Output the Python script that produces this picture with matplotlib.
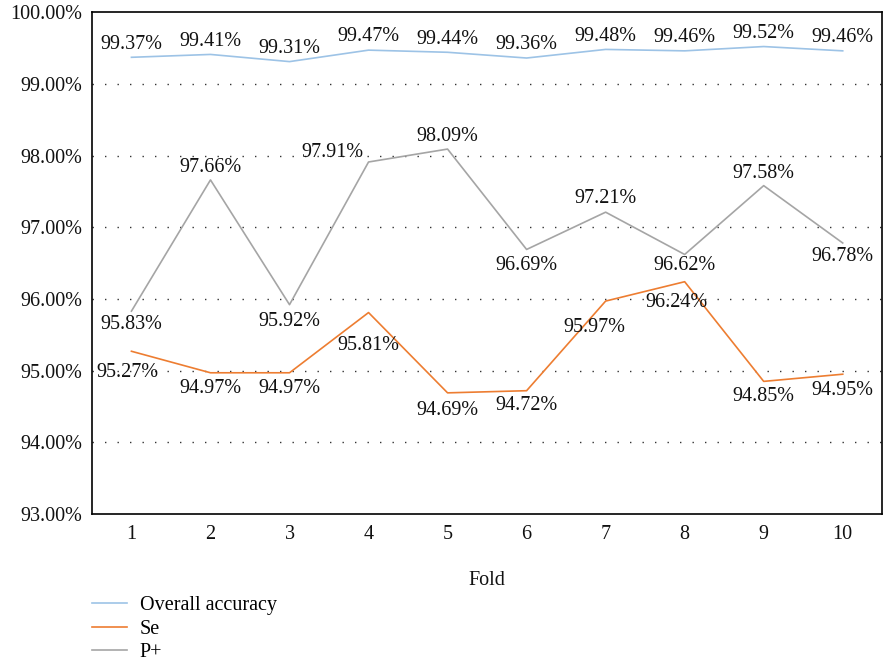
import matplotlib
matplotlib.use("Agg")
import matplotlib.pyplot as plt
from matplotlib.ticker import FuncFormatter

folds = [1, 2, 3, 4, 5, 6, 7, 8, 9, 10]
overall_accuracy = [99.37, 99.41, 99.31, 99.47, 99.44, 99.36, 99.48, 99.46, 99.52, 99.46]
se = [95.27, 94.97, 94.97, 95.81, 94.69, 94.72, 95.97, 96.24, 94.85, 94.95]
p_plus = [95.83, 97.66, 95.92, 97.91, 98.09, 96.69, 97.21, 96.62, 97.58, 96.78]

plt.rcParams["font.family"] = ["Liberation Serif", "DejaVu Serif"]

fig = plt.figure(figsize=(8.84, 6.63), dpi=100)
ax = fig.add_axes([0.104, 0.2247, 0.894, 0.757])

x = list(range(len(folds)))
ax.plot(x, overall_accuracy, color="#9dc3e6", lw=1.2, label="Overall accuracy")
ax.plot(x, se, color="#ed7d31", lw=1.2, label="Se")
ax.plot(x, p_plus, color="#a5a5a5", lw=1.2, label="P+")

fs = 14.5
# label offsets in points (dx, dy)
acc_off = [(0, 9.5)] * 10
se_off = [(-3, -15), (0, -11.5), (0, -11.5), (0, -24), (0, -13),
          (0, -11), (-8, -19), (-6, -15), (0, -11), (0, -11.5)]
pp_off = [(0, -9.5), (0, 9), (0, -12), (-26, 6.5), (0, 9),
          (0, -11.5), (0, 10), (0, -8), (0, 9), (0, -10)]

for vals, offs in [(overall_accuracy, acc_off), (se, se_off), (p_plus, pp_off)]:
    for i, v in enumerate(vals):
        ax.annotate(f"{v:.2f}%", (x[i], v), xytext=offs[i], textcoords="offset points",
                    ha="center", va="center", fontsize=fs, color="#111111")

ax.set_xlim(-0.5, len(folds) - 0.5)
ax.set_ylim(93, 100)
ax.set_xticks(x)
ax.set_xticklabels([str(f) for f in folds])
ax.set_yticks(range(93, 101))
ax.yaxis.set_major_formatter(FuncFormatter(lambda v, p: f"{v:.2f}%"))
ax.tick_params(axis="y", length=0, labelsize=fs, colors="#111111", pad=7)
ax.tick_params(axis="x", length=0, labelsize=fs, colors="#111111", pad=8)
for y in range(94, 100):
    ax.axhline(y, color="#333333", lw=1.0, ls=(0, (1, 8)), zorder=0)
for s in ax.spines.values():
    s.set_linewidth(1.2)

ax.set_xlabel("Fold", fontsize=fs, color="#111111", labelpad=19)

fig.legend(loc="upper left", bbox_to_anchor=(0.0945, 0.113), frameon=False,
           fontsize=fs, handlelength=1.75, handletextpad=0.65, labelspacing=0.22,
           borderaxespad=0)

fig.savefig("out.png", dpi=100)
